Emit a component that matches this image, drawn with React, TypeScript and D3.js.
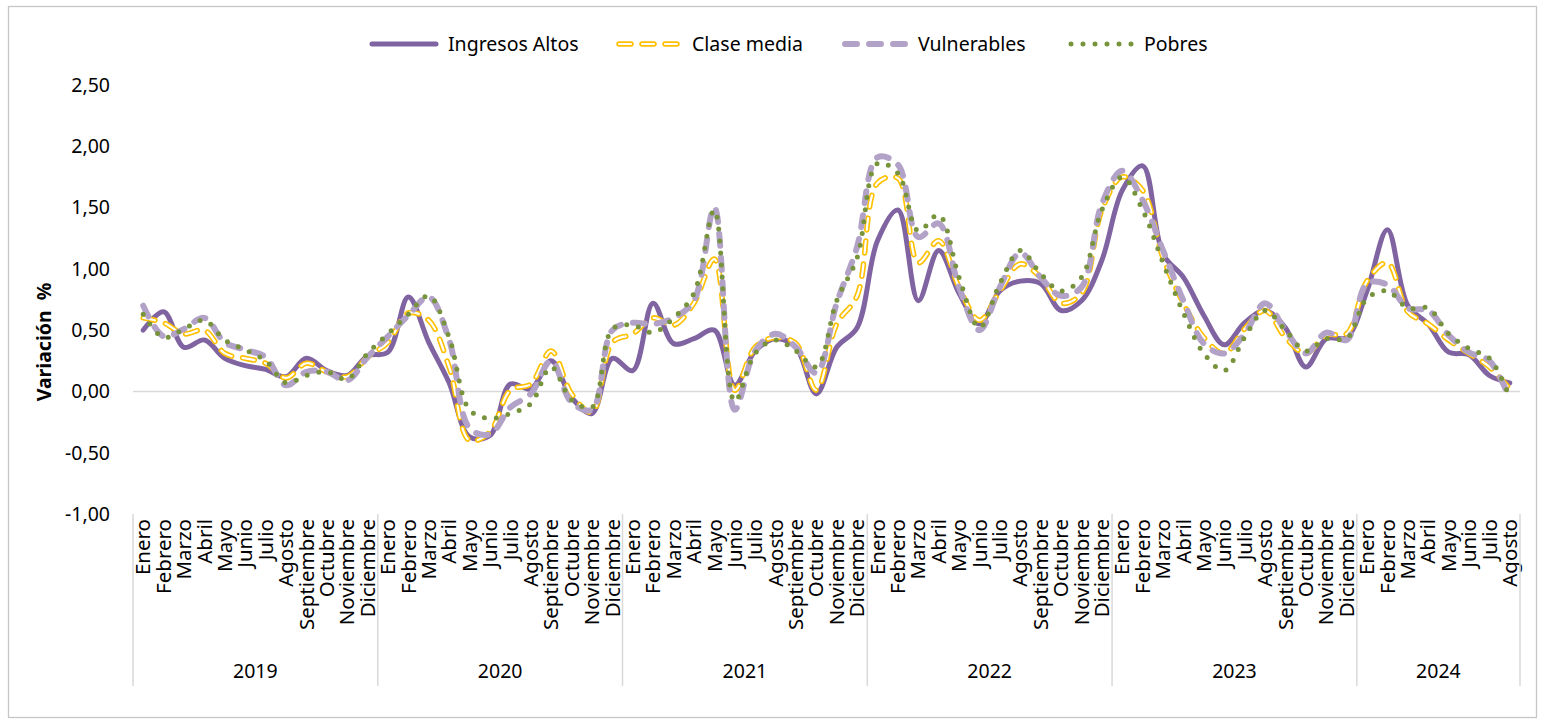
import React, { useEffect, useRef } from "react";
import * as d3 from "d3";

const monthNames = [
  "Enero", "Febrero", "Marzo", "Abril", "Mayo", "Junio",
  "Julio", "Agosto", "Septiembre", "Octubre", "Noviembre", "Diciembre",
];
const years = ["2019", "2020", "2021", "2022", "2023", "2024"];
const monthsPerYear = [12, 12, 12, 12, 12, 8];
const yTicks = [-1, -0.5, 0, 0.5, 1, 1.5, 2, 2.5];

const ingresosAltos = [
  0.50, 0.65, 0.36, 0.42, 0.27, 0.21, 0.18, 0.12, 0.27, 0.17, 0.13, 0.29,
  0.32, 0.77, 0.40, 0.07, -0.37, -0.36, 0.06, 0.02, 0.25, -0.05, -0.18, 0.27,
  0.17, 0.72, 0.39, 0.43, 0.50, 0.05, 0.33, 0.43, 0.36, -0.02, 0.36, 0.52,
  1.23, 1.48, 0.74, 1.15, 0.80, 0.55, 0.82, 0.90, 0.88, 0.66, 0.74, 1.07,
  1.64, 1.84, 1.12, 0.93, 0.62, 0.38, 0.56, 0.66, 0.52, 0.20, 0.43, 0.44,
  0.82, 1.32, 0.70, 0.55, 0.32, 0.30, 0.13, 0.07,
];
const claseMedia = [
  0.60, 0.56, 0.47, 0.50, 0.31, 0.27, 0.23, 0.11, 0.23, 0.16, 0.12, 0.28,
  0.40, 0.64, 0.58, 0.20, -0.40, -0.33, 0.01, 0.06, 0.33, -0.02, -0.17, 0.40,
  0.47, 0.60, 0.54, 0.72, 1.08, 0.01, 0.36, 0.44, 0.39, 0.01, 0.55, 0.78,
  1.70, 1.74, 1.05, 1.23, 0.85, 0.58, 0.82, 1.04, 0.93, 0.72, 0.80, 1.48,
  1.75, 1.64, 1.09, 0.72, 0.44, 0.31, 0.51, 0.66, 0.44, 0.31, 0.46, 0.47,
  0.90, 1.05, 0.65, 0.55, 0.42, 0.31, 0.20, 0.02,
];
const vulnerables = [
  0.70, 0.45, 0.51, 0.60, 0.40, 0.34, 0.28, 0.05, 0.16, 0.16, 0.09, 0.28,
  0.45, 0.62, 0.77, 0.42, -0.30, -0.35, -0.13, -0.02, 0.25, -0.09, -0.15, 0.50,
  0.56, 0.55, 0.60, 0.74, 1.50, -0.15, 0.33, 0.47, 0.36, 0.15, 0.72, 1.18,
  1.91, 1.85, 1.26, 1.37, 0.85, 0.50, 0.85, 1.13, 0.93, 0.78, 0.85, 1.53,
  1.80, 1.56, 1.15, 0.74, 0.39, 0.31, 0.47, 0.72, 0.50, 0.31, 0.48, 0.42,
  0.88, 0.87, 0.68, 0.66, 0.46, 0.32, 0.25, -0.06,
];
const pobres = [
  0.63, 0.44, 0.51, 0.58, 0.42, 0.34, 0.25, 0.07, 0.13, 0.16, 0.10, 0.31,
  0.47, 0.63, 0.78, 0.44, -0.15, -0.22, -0.18, -0.10, 0.20, -0.07, -0.13, 0.51,
  0.54, 0.48, 0.60, 0.80, 1.48, -0.08, 0.31, 0.42, 0.33, 0.20, 0.74, 1.09,
  1.86, 1.78, 1.31, 1.44, 0.93, 0.52, 0.88, 1.15, 0.96, 0.82, 0.93, 1.48,
  1.75, 1.48, 1.05, 0.64, 0.31, 0.17, 0.44, 0.66, 0.50, 0.33, 0.43, 0.43,
  0.76, 0.82, 0.68, 0.68, 0.47, 0.35, 0.27, -0.05,
];

const seriesNames = ["Ingresos Altos", "Clase media", "Vulnerables", "Pobres"];

const width = 1545;
const height = 724;
const font = "'Noto Sans', 'Open Sans', sans-serif";

// one entry per series, drawn in this order
const styles = [
  { color: "#8064a2", width: 5, dash: null, inner: false },
  { color: "#ffc000", width: 5.5, dash: "12 11", inner: true },
  { color: "#b3a2c7", width: 6, dash: "12 12", inner: false },
  { color: "#77933c", width: 5, dash: "0 12", inner: false },
];

function App() {
  const ref = useRef<SVGSVGElement>(null);

  useEffect(() => {
    document.body.style.margin = "0";
    const svg = d3.select(ref.current);
    svg.selectAll("*").remove();

    const categories = years.flatMap((y, yi) =>
      monthNames.slice(0, monthsPerYear[yi]).map((m) => ({ year: y, month: m, key: `${y}-${m}` }))
    );
    const allSeries = [ingresosAltos, claseMedia, vulnerables, pobres];

    const x = d3
      .scaleBand()
      .domain(categories.map((c) => c.key))
      .range([133, 1520]);
    const y = d3.scaleLinear().domain([-1, 2.5]).range([514, 85]);
    const cx = (i: number) => (x(categories[i].key) as number) + x.bandwidth() / 2;

    // outer border
    svg
      .append("rect")
      .attr("x", 8.5)
      .attr("y", 6.5)
      .attr("width", 1528)
      .attr("height", 711)
      .attr("fill", "#fff")
      .attr("stroke", "#c6c6c6")
      .attr("stroke-width", 1.3);

    // y tick labels
    svg
      .append("g")
      .selectAll("text")
      .data(yTicks)
      .enter()
      .append("text")
      .attr("x", 110)
      .attr("y", (d) => y(d))
      .attr("dy", "0.35em")
      .attr("text-anchor", "end")
      .style("font-family", font)
      .style("font-size", "19.5px")
      .style("fill", "#000")
      .text((d) => d3.format(".2f")(d).replace(".", ",").replace("−", "-"));

    // y axis title
    svg
      .append("text")
      .attr("transform", "translate(51, 342) rotate(-90)")
      .attr("text-anchor", "middle")
      .style("font-family", font)
      .style("font-size", "19.5px")
      .style("font-weight", "bold")
      .style("white-space", "pre")
      .text("Variación  %");

    // zero line
    svg
      .append("line")
      .attr("x1", 133)
      .attr("x2", 1520)
      .attr("y1", y(0))
      .attr("y2", y(0))
      .attr("stroke", "#d9d9d9")
      .attr("stroke-width", 1.5);

    // month labels
    svg
      .append("g")
      .selectAll("text")
      .data(categories)
      .enter()
      .append("text")
      .attr("transform", (_, i) => `translate(${cx(i)}, 519) rotate(-90)`)
      .attr("dy", "0.35em")
      .attr("text-anchor", "end")
      .style("font-family", font)
      .style("font-size", "20.5px")
      .text((d) => d.month);

    // year separators and labels
    let start = 0;
    const bounds: number[] = [133];
    years.forEach((yr, yi) => {
      const first = categories[start].key;
      const last = categories[start + monthsPerYear[yi] - 1].key;
      const x0 = x(first) as number;
      const x1 = (x(last) as number) + x.bandwidth();
      bounds.push(x1);
      svg
        .append("text")
        .attr("x", (x0 + x1) / 2)
        .attr("y", 671)
        .attr("dy", "0.35em")
        .attr("text-anchor", "middle")
        .style("font-family", font)
        .style("font-size", "19.5px")
        .text(yr);
      start += monthsPerYear[yi];
    });
    svg
      .append("g")
      .selectAll("line")
      .data(bounds)
      .enter()
      .append("line")
      .attr("x1", (d) => d)
      .attr("x2", (d) => d)
      .attr("y1", 514)
      .attr("y2", 686)
      .attr("stroke", "#d9d9d9")
      .attr("stroke-width", 1.5);

    // lines
    const line = d3
      .line<number>()
      .x((_, i) => cx(i))
      .y((d) => y(d))
      .curve(d3.curveCatmullRom.alpha(0.5));

    allSeries.forEach((vals, si) => {
      const s = styles[si];
      svg
        .append("path")
        .attr("d", line(vals))
        .attr("fill", "none")
        .attr("stroke", s.color)
        .attr("stroke-width", s.width)
        .attr("stroke-linecap", "round")
        .attr("stroke-linejoin", "round")
        .attr("stroke-dasharray", s.dash);
      if (s.inner) {
        svg
          .append("path")
          .attr("d", line(vals))
          .attr("fill", "none")
          .attr("stroke", "#fff")
          .attr("stroke-width", 2.2)
          .attr("stroke-linecap", "round")
          .attr("stroke-dasharray", s.dash);
      }
    });

    // legend
    const legendX = [372, 619, 845, 1071];
    seriesNames.forEach((name, si) => {
      const s = styles[si];
      const g = svg.append("g").attr("transform", `translate(${legendX[si]}, 44)`);
      g.append("line")
        .attr("x1", 0)
        .attr("x2", 64)
        .attr("stroke", s.color)
        .attr("stroke-width", s.width)
        .attr("stroke-linecap", "round")
        .attr("stroke-dasharray", s.dash);
      if (s.inner) {
        g.append("line")
          .attr("x1", 0)
          .attr("x2", 64)
          .attr("stroke", "#fff")
          .attr("stroke-width", 2.2)
          .attr("stroke-linecap", "round")
          .attr("stroke-dasharray", s.dash);
      }
      g.append("text")
        .attr("x", si === 0 ? 76 : 73)
        .attr("dy", "0.35em")
        .style("font-family", font)
        .style("font-size", "19.5px")
        .text(name);
    });
  }, []);

  return <svg ref={ref} width={width} height={height} style={{ display: "block" }} />;
}

export default App;
